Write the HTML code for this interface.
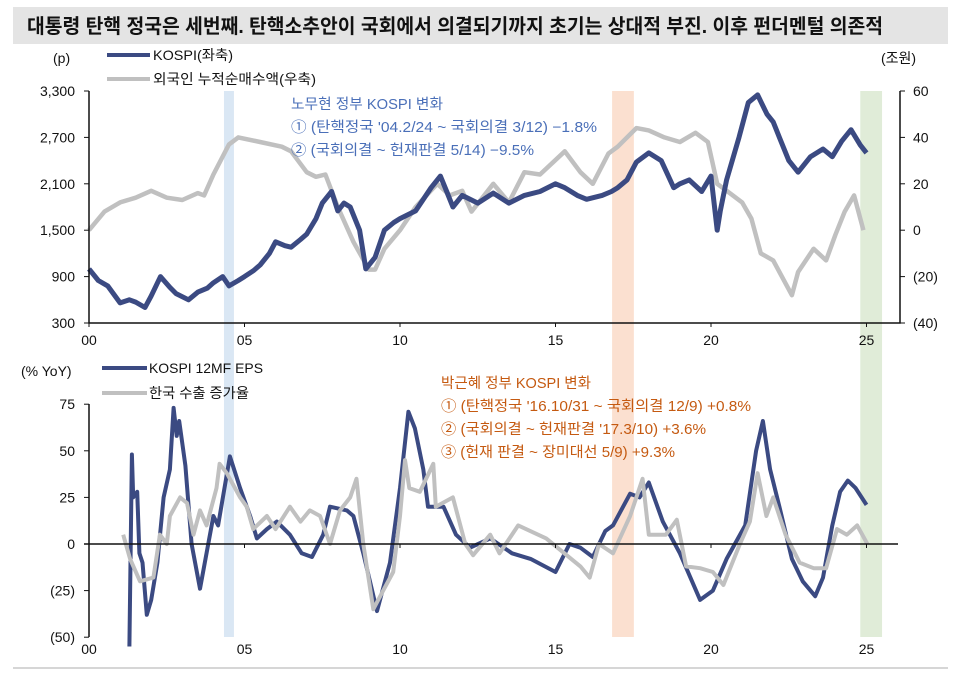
<!DOCTYPE html>
<html><head><meta charset="utf-8"><style>
html,body{margin:0;padding:0;background:#fff;}
svg{display:block;font-family:"Liberation Sans","Noto Sans CJK KR",sans-serif;}
</style></head><body>
<svg id="chart" width="960" height="673" viewBox="0 0 960 673" xmlns="http://www.w3.org/2000/svg">
<rect x="13" y="7" width="935" height="37" fill="#e4e4e4"/>
<text x="27" y="33" font-size="20" font-weight="bold" fill="#111" textLength="856" lengthAdjust="spacingAndGlyphs">대통령 탄핵 정국은 세번째. 탄핵소추안이 국회에서 의결되기까지 초기는 상대적 부진. 이후 펀더멘털 의존적</text>
<line x1="13" y1="668" x2="948" y2="668" stroke="#c8c8c8" stroke-width="1.5"/>
<g id="bands"></g>
<g id="topchart"></g>
<g id="botchart"></g>
<line x1="107" y1="55" x2="150" y2="55" stroke="#3b4a82" stroke-width="4"/>
<text x="153" y="60" font-size="14" fill="#111" textLength="80" lengthAdjust="spacingAndGlyphs">KOSPI(좌축)</text>
<line x1="107" y1="79" x2="150" y2="79" stroke="#c0c0c0" stroke-width="4"/>
<text x="153" y="84" font-size="14" fill="#111" textLength="163" lengthAdjust="spacingAndGlyphs">외국인 누적순매수액(우축)</text>
<text x="53" y="63" font-size="14" fill="#111">(p)</text>
<text x="881" y="63" font-size="14" fill="#111">(조원)</text>
<g font-size="14.5" fill="#4a6fb8">
<text x="291" y="109" textLength="152" lengthAdjust="spacingAndGlyphs">노무현 정부 KOSPI 변화</text>
<text x="291" y="132" textLength="306" lengthAdjust="spacingAndGlyphs">① (탄핵정국 '04.2/24 ~ 국회의결 3/12) −1.8%</text>
<text x="291" y="155" textLength="243" lengthAdjust="spacingAndGlyphs">② (국회의결 ~ 헌재판결 5/14) −9.5%</text>
</g>
<line x1="102" y1="368" x2="147" y2="368" stroke="#3b4a82" stroke-width="4"/>
<text x="149" y="373" font-size="14" fill="#111" textLength="114" lengthAdjust="spacingAndGlyphs">KOSPI 12MF EPS</text>
<line x1="102" y1="393" x2="147" y2="393" stroke="#c0c0c0" stroke-width="4"/>
<text x="149" y="398" font-size="14" fill="#111" textLength="100" lengthAdjust="spacingAndGlyphs">한국 수출 증가율</text>
<text x="21" y="376" font-size="14" fill="#111">(% YoY)</text>
<g font-size="14.5" fill="#c55a11">
<text x="441" y="388" textLength="150" lengthAdjust="spacingAndGlyphs">박근혜 정부 KOSPI 변화</text>
<text x="441" y="411" textLength="310" lengthAdjust="spacingAndGlyphs">① (탄핵정국 '16.10/31 ~ 국회의결 12/9) +0.8%</text>
<text x="441" y="434" textLength="265" lengthAdjust="spacingAndGlyphs">② (국회의결 ~ 헌재판결 '17.3/10) +3.6%</text>
<text x="441" y="457" textLength="234" lengthAdjust="spacingAndGlyphs">③ (헌재 판결 ~ 장미대선 5/9) +9.3%</text>
</g>
</svg>
<script>
const kospiYears=[0,0.3,0.6,1.0,1.3,1.5,1.8,2.0,2.3,2.6,2.8,3.2,3.5,3.8,4.0,4.3,4.5,4.8,5.0,5.3,5.5,5.8,6.0,6.3,6.5,6.8,7.0,7.3,7.5,7.8,8.0,8.2,8.4,8.7,8.9,9.2,9.5,9.8,10.0,10.5,11.0,11.3,11.5,11.7,12.0,12.5,13.0,13.5,14.0,14.5,15.0,15.3,15.7,16.0,16.5,16.8,17.0,17.3,17.6,18.0,18.4,18.8,19.0,19.3,19.7,20.0,20.2,20.3,20.5,20.9,21.2,21.5,21.8,22.0,22.2,22.5,22.8,23.2,23.6,23.9,24.2,24.5,24.8,25.0];
const kospiValues=[1000,850,780,560,600,570,500,650,900,760,680,600,700,750,820,900,780,850,900,980,1050,1200,1350,1300,1280,1380,1450,1650,1850,2000,1750,1850,1800,1500,1000,1150,1500,1600,1650,1750,2050,2200,2000,1800,1950,1850,1980,1850,1950,2000,2100,2050,1950,1900,1950,2000,2050,2150,2380,2500,2400,2050,2100,2150,2000,2200,1500,1750,2150,2700,3150,3250,3000,2900,2700,2400,2250,2450,2550,2450,2650,2800,2600,2500];
const foreignYears=[0,0.5,1.0,1.5,2.0,2.5,3.0,3.5,3.7,4.0,4.5,4.8,5.5,6.2,6.5,7.0,7.3,7.6,8.0,8.5,9.0,9.2,9.5,10.0,10.5,11.2,11.6,12.0,12.3,13.0,13.5,14.0,14.5,15.3,15.8,16.2,16.7,17.0,17.6,18.0,18.5,19.0,19.5,19.9,20.2,20.6,21.0,21.3,21.6,22.0,22.6,22.8,23.3,23.7,24.0,24.3,24.6,24.9];
const foreignValues=[0,8,12,14,17,14,13,16,15,24,37,40,38,36,34,25,23,24,10,-5,-17,-17,-8,0,10,20,15,17,8,20,12,25,24,34,25,20,33,36,44,43,40,38,42,38,20,16,12,5,-10,-13,-28,-18,-8,-13,-2,8,15,0];
const epsYears=[1.3,1.38,1.42,1.55,1.62,1.72,1.86,2.0,2.2,2.4,2.6,2.72,2.82,2.9,3.1,3.3,3.57,4.0,4.15,4.53,4.86,5.18,5.4,5.72,6.04,6.46,6.84,7.17,7.53,7.75,8.29,8.5,8.82,9.26,9.68,10.0,10.27,10.48,10.75,10.9,11.4,11.8,12.25,12.9,13.6,14.2,15.0,15.45,15.8,16.2,16.6,16.85,17.4,17.7,18.0,18.45,19.0,19.65,20.06,20.5,21.1,21.45,21.67,21.9,22.2,22.6,22.95,23.35,23.6,23.9,24.15,24.4,24.65,25.0];
const epsValues=[-55,48,25,28,-5,-10,-38,-30,-10,25,40,73,58,66,42,0,-24,15,10,47,30,15,3,8,12,5,-5,-7,5,20,18,15,-5,-36,-10,30,71,62,40,20,20,5,-2,3,-5,-8,-15,0,-2,-7,7,10,27,25,33,12,-5,-30,-25,-8,10,50,66,40,20,-8,-20,-28,-18,10,28,34,30,21];
const exportYears=[1.1,1.32,1.64,2.07,2.28,2.5,2.6,2.93,3.15,3.36,3.57,3.78,4.1,4.2,4.43,4.86,5.07,5.28,5.72,6.0,6.46,6.8,7.1,7.43,7.75,8.07,8.4,8.6,8.82,9.14,9.46,9.78,10.0,10.16,10.3,10.64,11.07,11.15,11.7,12.1,12.35,12.9,13.2,13.8,14.7,15.8,16.1,16.4,16.85,17.4,17.8,18.0,18.55,18.9,19.2,19.65,20.06,20.4,20.93,21.25,21.5,21.78,22.0,22.4,22.85,23.3,23.7,24.05,24.37,24.7,25.03];
const exportValues=[5,-8,-20,-18,5,0,15,25,22,5,18,10,30,43,38,25,20,8,15,8,20,12,18,15,0,18,25,35,0,-35,-25,-15,15,45,30,28,43,20,25,0,-6,5,-5,10,3,-12,-18,0,-5,15,35,5,5,13,-12,-13,-15,-22,0,12,38,15,25,5,-10,-13,-13,8,5,10,0];
const topLeftTicks=[300,900,1500,2100,2700,3300];
const topLeftLabels=["300","900","1,500","2,100","2,700","3,300"];
const topRightTicks=[-40,-20,0,20,40,60];
const topRightLabels=["(40)","(20)","0","20","40","60"];
const botTicks=[-50,-25,0,25,50,75];
const botLabels=["(50)","(25)","0","25","50","75"];
const xTicks=[0,5,10,15,20,25];
const xLabels=["00","05","10","15","20","25"];
const bandStarts=[4.34,16.82,24.8];
const bandEnds=[4.66,17.52,25.5];
const bandColors=["#dae7f4","#fbe0d0","#e0ecd8"];

const NS="http://www.w3.org/2000/svg";
const X=y=>89+y*31.1;
const yL=v=>91+(3300-v)/3000*232;
const yR=v=>91+(60-v)/100*232;
const yB=v=>544-v*1.864;
function mk(tag,attrs,parent,txt){const e=document.createElementNS(NS,tag);for(const k in attrs)e.setAttribute(k,attrs[k]);if(txt!==undefined)e.textContent=txt;parent.appendChild(e);return e;}
const gBands=document.getElementById('bands'),gTop=document.getElementById('topchart'),gBot=document.getElementById('botchart');
bandStarts.forEach((s,i)=>{
  const r=mk('rect',{x:X(s),y:91,width:X(bandEnds[i])-X(s),height:546,fill:bandColors[i]},gBands);
  
  
});
function pathD(xs,vs,fy){return xs.map((x,i)=>(i?'L':'M')+X(x).toFixed(1)+','+fy(vs[i]).toFixed(1)).join('');}
let p=mk('path',{d:pathD(foreignYears,foreignValues,yR),fill:'none',stroke:'#c0c0c0','stroke-width':4.5,'stroke-linejoin':'round'},gTop);


p=mk('path',{d:pathD(kospiYears,kospiValues,yL),fill:'none',stroke:'#3b4a82','stroke-width':5,'stroke-linejoin':'round'},gTop);


let a=mk('path',{d:'M89,91V323H900V91',fill:'none',stroke:'#111','stroke-width':1.5},gTop);


topLeftTicks.forEach((v,i)=>{
  mk('line',{x1:84,x2:89,y1:yL(v),y2:yL(v),stroke:'#111'},gTop);
  const t=mk('text',{x:75,y:yL(v)+5,'text-anchor':'end','font-size':14,fill:'#111'},gTop,topLeftLabels[i]);
  
  
});
topRightTicks.forEach((v,i)=>{
  mk('line',{x1:900,x2:905,y1:yR(v),y2:yR(v),stroke:'#111'},gTop);
  const t=mk('text',{x:913,y:yR(v)+5,'font-size':14,fill:'#111'},gTop,topRightLabels[i]);
  
  
});
xTicks.forEach((v,i)=>{
  mk('line',{x1:X(v),x2:X(v),y1:323,y2:327,stroke:'#111'},gTop);
  const t=mk('text',{x:X(v),y:345,'text-anchor':'middle','font-size':14,fill:'#111'},gTop,xLabels[i]);
  
  
});
p=mk('path',{d:pathD(epsYears,epsValues,yB),fill:'none',stroke:'#3b4a82','stroke-width':4,'stroke-linejoin':'round'},gBot);


p=mk('path',{d:pathD(exportYears,exportValues,yB),fill:'none',stroke:'#c0c0c0','stroke-width':4,'stroke-linejoin':'round'},gBot);


a=mk('path',{d:'M89,404V637',fill:'none',stroke:'#111','stroke-width':1.5},gBot);


a=mk('line',{x1:84,x2:898,y1:yB(0),y2:yB(0),stroke:'#111','stroke-width':1.5},gBot);


botTicks.forEach((v,i)=>{
  mk('line',{x1:84,x2:89,y1:yB(v),y2:yB(v),stroke:'#111'},gBot);
  const t=mk('text',{x:75,y:yB(v)+5,'text-anchor':'end','font-size':14,fill:'#111'},gBot,botLabels[i]);
  
  
});
xTicks.forEach((v,i)=>{
  mk('line',{x1:X(v),x2:X(v),y1:544,y2:548,stroke:'#111'},gBot);
  const t=mk('text',{x:X(v),y:654,'text-anchor':'middle','font-size':14,fill:'#111'},gBot,xLabels[i]);
  
  
});
</script>
</body></html>
